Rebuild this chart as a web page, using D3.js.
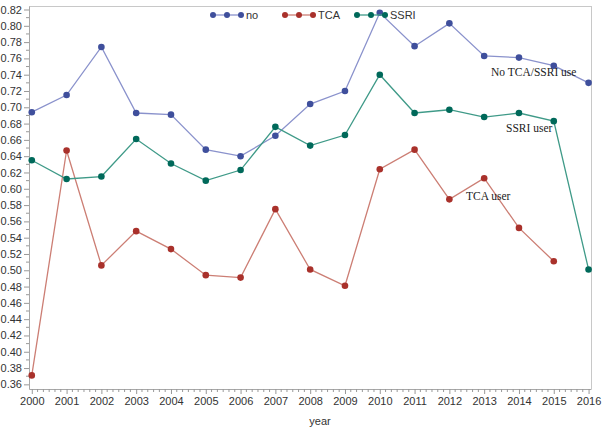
<!DOCTYPE html>
<html><head><meta charset="utf-8">
<script src="https://cdn.jsdelivr.net/npm/d3@7"></script>
<style>body{margin:0;background:#fff}svg{display:block}</style>
</head><body>
<svg id="c" width="604" height="433"></svg>
<script>
const years = [2000,2001,2002,2003,2004,2005,2006,2007,2008,2009,2010,2011,2012,2013,2014,2015,2016];
const noUse = [0.694,0.715,0.774,0.693,0.691,0.648,0.640,0.665,0.704,0.720,0.816,0.775,0.803,0.763,0.761,0.751,0.730];
const tcaUse = [0.371,0.647,0.506,0.548,0.526,0.494,0.491,0.575,0.501,0.481,0.624,0.648,0.587,0.613,0.552,0.511,null];
const ssriUse = [0.635,0.612,0.615,0.661,0.631,0.610,0.623,0.676,0.653,0.666,0.740,0.693,0.697,0.688,0.693,0.683,0.501];
const yTicks = d3.range(0.36, 0.8201, 0.02);
const legendNames = ["no","TCA","SSRI"];
const seriesLabels = ["No TCA/SSRI use","TCA user","SSRI user"];

const svg = d3.select("#c");
const L = 29, R = 591, T = 6, B = 389;
const x = d3.scaleLinear().domain([1999.92, 2016.07]).range([L, R]);
const y = d3.scaleLinear().domain([0.3543, 0.8243]).range([B, T]);

const series = [
  {vals: noUse, dot: "#3f4f9c", line: "#8a92cc"},
  {vals: tcaUse, dot: "#a9312b", line: "#cc7e74"},
  {vals: ssriUse, dot: "#00695a", line: "#3f9a88"}
];

// frame
svg.append("line").attr("x1",L).attr("x2",R).attr("y1",T+0.5).attr("y2",T+0.5).attr("stroke","#c8c8c8");
svg.append("line").attr("x1",R+0.5).attr("x2",R+0.5).attr("y1",T).attr("y2",B).attr("stroke","#c8c8c8");

// axes
const xAxis = d3.axisBottom(x).tickValues(years).tickFormat(d3.format("d")).tickSize(5).tickSizeOuter(0);
const gx = svg.append("g").attr("transform",`translate(0,${B})`).call(xAxis);
const minorX = [];
years.slice(0,-1).forEach(yr => { for (let k=1;k<6;k++) minorX.push(yr + k/6); });
gx.selectAll(".minor").data(minorX).enter().append("line").attr("class","minor")
  .attr("x1",d=>x(d)).attr("x2",d=>x(d)).attr("y1",0).attr("y2",3).attr("stroke","#999");

const yAxis = d3.axisLeft(y).tickValues(yTicks).tickFormat(d3.format(".2f")).tickSize(5).tickSizeOuter(0);
const gy = svg.append("g").attr("transform",`translate(${L},0)`).call(yAxis);
const minorY = yTicks.slice(0,-1).map(v => v + 0.01);
gy.selectAll(".minor").data(minorY).enter().append("line").attr("class","minor")
  .attr("x1",0).attr("x2",-3).attr("y1",d=>y(d)).attr("y2",d=>y(d)).attr("stroke","#999");

[gx, gy].forEach(g => {
  g.select(".domain").attr("stroke","#a8a8a8");
  g.selectAll(".tick line").attr("stroke","#999");
  g.selectAll("text").attr("fill","#333").style("font-family","'Liberation Sans', Arial, sans-serif").style("font-size","11px");
});
gx.selectAll(".tick text").attr("dy","0.95em").attr("y",6);
gy.selectAll(".tick text").attr("x",-7);

svg.append("text").attr("x",320).attr("y",425).attr("text-anchor","middle")
  .attr("fill","#333").style("font-family","'Liberation Sans', Arial, sans-serif").style("font-size","11px").text("year");

// lines & points
series.forEach(s => {
  const pts = years.map((yr,i)=>({x:yr, v:s.vals[i]})).filter(d=>d.v!==null);
  svg.append("path").datum(pts)
    .attr("d", d3.line().x(d=>x(d.x)).y(d=>y(d.v)))
    .attr("fill","none").attr("stroke",s.line).attr("stroke-width",1.3);
  svg.selectAll(null).data(pts).enter().append("circle")
    .attr("cx",d=>x(d.x)).attr("cy",d=>y(d.v)).attr("r",3.3).attr("fill",s.dot);
});

// legend
const legX = [213, 285, 357];
legendNames.forEach((name,i) => {
  const g = svg.append("g").attr("transform",`translate(${legX[i]},15)`);
  g.append("line").attr("x1",0).attr("x2",28).attr("y1",0).attr("y2",0).attr("stroke",series[i].line).attr("stroke-width",1.3);
  [0,14,28].forEach(cx => g.append("circle").attr("cx",cx).attr("cy",0).attr("r",3).attr("fill",series[i].dot));
  g.append("text").attr("x",33).attr("y",4).attr("fill","#333")
    .style("font-family","'Liberation Sans', Arial, sans-serif").style("font-size","11px").text(name);
});

// in-plot labels
const lab = [
  {t: seriesLabels[0], x: 491, y: 76},
  {t: seriesLabels[2], x: 506, y: 132},
  {t: seriesLabels[1], x: 466, y: 200}
];
lab.forEach(l => svg.append("text").attr("x",l.x).attr("y",l.y).attr("fill","#222")
  .style("font-family","'Liberation Serif', 'Times New Roman', serif").style("font-size","11.5px").text(l.t));
</script>
</body></html>
